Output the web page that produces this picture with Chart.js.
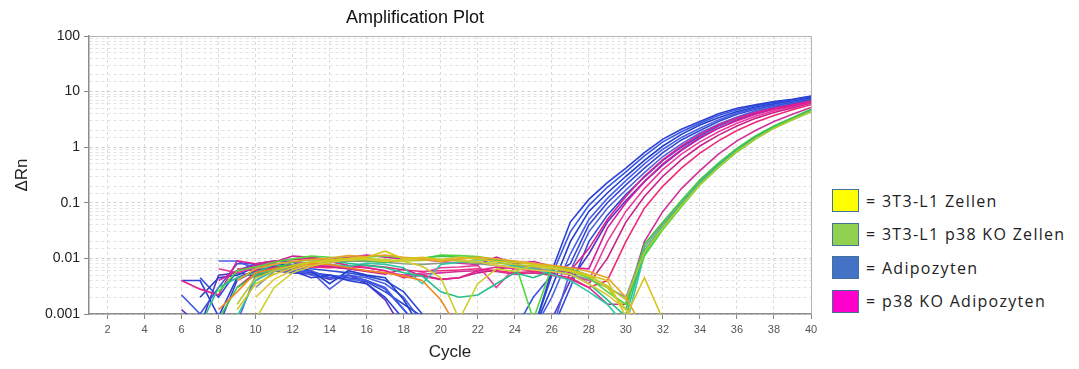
<!DOCTYPE html>
<html>
<head>
<meta charset="utf-8">
<script src="https://cdn.jsdelivr.net/npm/chart.js@4.4.1/dist/chart.umd.min.js"></script>
<style>
  html, body { margin: 0; padding: 0; background: #fff; }
  #wrap { position: relative; width: 1079px; height: 369px; }
  #chart { position: absolute; left: 0; top: 0; }
  .legend { position: absolute; left: 832px; top: 184px; font-family: "Open Sans", Lato, sans-serif; font-size: 16px; letter-spacing: 1.3px; color: #222; }
  .item { display: flex; align-items: center; height: 33.5px; white-space: nowrap; }
  .box { width: 25px; height: 21px; border: 1.5px solid #41719c; margin-right: 7px; flex: none; }
</style>
</head>
<body>
<div id="wrap">
  <canvas id="chart" width="830" height="369"></canvas>
  <div class="legend" id="legend"></div>
</div>
<script>
const n = null;
const cycles = [1,2,3,4,5,6,7,8,9,10,11,12,13,14,15,16,17,18,19,20,
  21,22,23,24,25,26,27,28,29,30,31,32,33,34,35,36,37,38,39,40];
const xTicks = [2,4,6,8,10,12,14,16,18,20,22,24,26,28,30,32,34,36,38,40];
const yLabels = [0.001, 0.01, 0.1, 1, 10, 100];

const legendNames = ['= 3T3-L1 Zellen', '= 3T3-L1 p38 KO Zellen', '= Adipozyten', '= p38 KO Adipozyten'];
const legendColors = ['#ffff00', '#92d050', '#4472c4', '#ff00cc'];

// 3T3-L1 Zellen (yellow / orange)
const zellen = [
  [n,n,n,n,n, n,n,n,.0012,.0035, .0052,.0068,.0085,.0092,.01, .0105,.0135,.0098,.0105,.0095, .0105,.0098,.0088,.0085,.0078, .007,.0062,.005,.004,.0009, .0045,.0008,n,n,n, n,n,n,n,n],
  [n,n,n,n,n, n,n,n,.004,.0065, .0078,.0088,.0095,.0102,.0112, .0108,.0115,.0105,.0098,.0088, .0098,.0105,.0098,.009,.0082, .0075,.0068,.0058,.0045,.002, .0005,n,n,n,n, n,n,n,n,n],
  [n,n,n,n,n, n,n,n,n,.0008, .003,.0055,.0072,.0085,.0095, .0098,.0092,.0088,.0072,.0045, .0008,.0035,.0065,.0058,.0075, .0068,.006,.0048,.003,.0012, .0005,n,n,n,n, n,n,n,n,n],
  [n,n,n,n,n, n,n,n,.0015,.0045, .006,.0075,.0088,.0095,.0092, .0098,.0095,.009,.0092,.0095, .009,.0085,.0082,.0078,.0072, .0065,.0058,.0048,.0032,.0018, .013,.036,.09,.215,.44, .84,1.42,2.2,3.15,4.4],
  [n,n,n,n,n, n,n,.0012,.0025,.0055, .0065,.0072,.008,.0078,.0068, .006,.0055,.0048,.004,.0018, .0005,n,n,n,n, n,n,n,n,n, n,n,n,n,n, n,n,n,n,n],
  [n,n,n,n,n, n,n,n,n,.002, .0042,.0062,.0078,.0092,.0098, .0095,.0088,.0095,.0098,.0092, .0095,.0088,.0075,.0068,.0062, .0058,.0052,.0035,.0022,.0012, .0006,n,n,n,n, n,n,n,n,n]
];
const zellenColors = ['#d8c41c', '#e8a42a', '#cfcf2a', '#b8c830', '#f08a20', '#e0c83a'];

// 3T3-L1 p38 KO Zellen (green)
const koZellen = [
  [n,n,n,n,n, n,n,.0008,.003,.005, .0065,.0085,.0095,.0088,.0095, .0092,.0085,.0095,.0102,.011, .0105,.0098,.009,.0085,.008, .0072,.0065,.005,.003,.0012, .018,.045,.11,.26,.52, .95,1.6,2.4,3.4,4.8],
  [n,n,n,n,n, n,.0006,.003,.0045,.0055, .0078,.0068,.0085,.0092,.0082, .0075,.0068,.0055,.0048,.0025, .002,.0022,.0035,.0055,.0045, .006,.0052,.0035,.0018,.0009, .014,.038,.095,.23,.47, .88,1.5,2.3,3.3,4.6],
  [n,n,n,n,n, n,n,.0025,.006,.007, .0085,.0098,.011,.0105,.0098, .0105,.0112,.0102,.0098,.0115, .0112,.0108,.0095,.0088,.0008, .007,.0058,.0045,.0025,.0015, .011,.033,.085,.21,.43, .82,1.4,2.2,3.1,4.3],
  [n,n,n,n,n, n,n,n,.0009,.004, .006,.0075,.0082,.0078,.0072, .0082,.0078,.0068,.0035,.0078, .0085,.0095,.0088,.0072,.0065, .0052,.004,.0025,.0015,.0006, .012,.036,.09,.22,.45, .85,1.45,2.25,3.2,4.5],
  [n,n,n,n,n, n,n,n,n,.003, .0058,.007,.008,.0085,.009, .0088,.0085,.008,.0078,.0082, .0085,.008,.0075,.007,.0068, .006,.0052,.0042,.003,.002, .016,.042,.1,.24,.5, .92,1.55,2.35,3.35,4.7]
];
const koZellenColors = ['#3cc84a', '#22c08a', '#52d838', '#30c8a8', '#8a9a88'];

// p38 KO Adipozyten (magenta)
const koAdipo = [
  [n,n,n,n,n, .004,.0028,.0022,.009,.008, .009,.0095,.01,.0088,.0075, .0068,.006,.0045,.005,.0042, .0045,.006,.007,.0065,.006, .0055,.006,.015,.05,.13, .3,.6,1.05,1.7,2.5, 3.3,4.2,5.0,5.8,6.8],
  [n,n,n,n,n, n,n,.004,.006,.0075, .0085,.011,.0105,.0095,.0105, .0115,.0105,.0098,.0095,.0088, .0082,.0078,.0105,.008,.0088, .0072,.0068,.0065,.035,.1, .24,.5,.9,1.5,2.2, 3.0,3.9,4.8,5.6,6.6],
  [n,n,n,n,n, n,n,.0065,.0055,.007, .008,.0085,.008,.0075,.007, .0068,.006,.0048,.0055,.0068, .007,.0075,.003,.0068,.0065, .006,.005,.004,.02,.07, .18,.4,.75,1.25,1.9, 2.7,3.6,4.5,5.4,6.4],
  [n,n,n,n,n, n,n,n,.003,.0055, .007,.0075,.0078,.0072,.0065, .0058,.0052,.0065,.0048,.0042, .0045,.0055,.0062,.0075,.0072, .0068,.0055,.0035,.01,.045, .13,.3,.6,1.05,1.65, 2.4,3.3,4.2,5.1,6.2],
  [n,n,n,n,n, n,n,n,.0065,.006, .0068,.0072,.007,.0068,.0072, .0075,.007,.0062,.0058,.006, .0062,.0065,.006,.0055,.0058, .0052,.0045,.003,.004,.02, .08,.2,.42,.78,1.3, 2.0,2.8,3.7,4.7,5.8],
  [n,n,n,n,n, n,n,n,n,.004, .0062,.0068,.0072,.007,.0065, .006,.0055,.005,.0052,.0055, .0058,.006,.0058,.0052,.0055, .005,.0042,.003,.0015,.0015, .02,.07,.18,.38,.75, 1.3,2.0,2.9,3.9,5.2]
];
const koAdipoColors = ['#e0208c', '#d41ca0', '#e83c9c', '#c8208a', '#ee2a78', '#d0309a'];

// Adipozyten (blue)
const adipo = [
  [n,n,n,n,n, .004,.004,.0009,.0045,.006, .007,.006,.0045,.005,.004, .0035,.002,.0008,.0005,.0005, .0005,.0005,.0005,.0005,.0005, .006,.045,.115,.23,.42, .8,1.4,2.1,2.9,4.0, 5.0,5.8,6.6,7.3,8.3],
  [n,n,n,n,n, .0022,.001,.003,.008,.008, .007,.0055,.006,.0045,.005, .004,.0028,.0012,.0005,.0005, .0005,.0005,.0005,.0005,.002, .005,.03,.09,.19,.36, .7,1.25,1.9,2.7,3.7, 4.7,5.6,6.4,7.1,8.0],
  [n,n,n,n,n, n,.002,.0045,.005,.007, .008,.0075,.006,.0035,.006, .005,.0045,.0018,.0005,.0005, .0005,.0005,.0005,.0005,.0005, .003,.02,.07,.15,.3, .58,1.05,1.7,2.5,3.4, 4.4,5.3,6.1,6.9,7.8],
  [n,n,n,n,n, n,n,.009,.009,.0065, .008,.007,.005,.0045,.0042, .004,.003,.0012,.0005,.0005, .0005,.0005,.0005,.0005,.0005, .002,.012,.05,.12,.25, .5,.92,1.5,2.2,3.1, 4.1,5.0,5.9,6.7,7.6],
  [n,n,n,n,n, n,n,.0006,.004,.006, .0085,.006,.0055,.005,.0045, .0038,.0025,.0015,.0009,.0005, .0005,.0005,.0005,.0005,.0005, .005,.008,.04,.1,.21, .42,.8,1.35,2.0,2.9, 3.9,4.8,5.7,6.5,7.4],
  [n,n,n,n,n, n,n,n,.0007,.005, .0075,.0068,.0058,.0028,.005, .0045,.0035,.002,.0007,.0005, .0005,.0005,.0005,.0005,.0005, .0005,.006,.03,.08,.17, .35,.68,1.15,1.8,2.6, 3.5,4.5,5.4,6.3,7.3],
  [n,n,n,n,n, n,.0045,.002,.006,.008, .009,.0085,.0065,.006,.0055, .0048,.004,.0025,.001,.0005, .0005,.0005,.0005,.0005,.0005, .0005,.003,.02,.06,.14, .29,.58,1.0,1.6,2.4, 3.3,4.3,5.2,6.1,7.1],
  [n,n,n,n,n, .0012,.0006,.005,.0055,.0048, .006,.0055,.0052,.0042,.005, .0035,.0018,.0005,.0005,.0005, .0005,.0005,.0005,.0005,.0005, .0008,.004,.012,.045,.11, .24,.48,.88,1.45,2.2, 3.1,4.0,5.0,5.9,7.0]
];
const adipoColors = ['#2a3fd6', '#3a56e0', '#2040c8', '#4a5fe8', '#3348d0', '#5060e0', '#2f4bd8', '#5a34c4'];

// first dataset is painted on top, so yellow/green go first
const datasets = [];
function addGroup(series, colors) {
  series.forEach((vals, i) => {
    datasets.push({
      data: vals.map((v, k) => ({ x: cycles[k], y: v })),
      borderColor: colors[i % colors.length],
      borderWidth: 1.6,
      pointRadius: 0,
      tension: 0,
      fill: false
    });
  });
}
addGroup(zellen, zellenColors);
addGroup(koZellen, koZellenColors);
addGroup(koAdipo, koAdipoColors);
addGroup(adipo, adipoColors);

function isDecade(v) {
  const l = Math.log10(v);
  return Math.abs(l - Math.round(l)) < 1e-6;
}

// top and right edge of the plot frame
const frame = {
  id: 'frame',
  beforeDatasetsDraw(chart) {
    const a = chart.chartArea, ctx = chart.ctx;
    ctx.save();
    ctx.strokeStyle = '#b4b4b4';
    ctx.lineWidth = 1;
    ctx.beginPath();
    ctx.moveTo(a.left, a.top + 0.5);
    ctx.lineTo(a.right + 0.5, a.top + 0.5);
    ctx.lineTo(a.right + 0.5, a.bottom);
    ctx.stroke();
    ctx.restore();
  }
};

const font = 'Liberation Sans, Arial, sans-serif';

new Chart(document.getElementById('chart'), {
  type: 'line',
  data: { datasets: datasets },
  options: {
    responsive: false,
    animation: false,
    spanGaps: false,
    layout: { padding: 0 },
    plugins: {
      legend: { display: false },
      tooltip: { enabled: false },
      title: {
        display: true,
        text: 'Amplification Plot',
        color: '#111',
        font: { family: font, size: 18, weight: 'normal' },
        padding: { top: 7, bottom: 7.4 }
      }
    },
    scales: {
      x: {
        type: 'linear',
        min: 1,
        max: 40,
        afterBuildTicks: (s) => { s.ticks = xTicks.map(v => ({ value: v })); },
        afterFit: (s) => { s.height = 55; },
        ticks: {
          color: '#555',
          font: { family: font, size: 11 },
          padding: 4,
          maxRotation: 0,
          autoSkip: false
        },
        grid: {
          color: '#dadada',
          tickColor: '#888',
          tickLength: 5,
          lineWidth: 1
        },
        border: { color: '#8c8c8c', width: 1.5, dash: [3, 3] },
        title: {
          display: true,
          text: 'Cycle',
          color: '#222',
          font: { family: font, size: 17 },
          padding: { top: 4, bottom: 6 }
        }
      },
      y: {
        type: 'logarithmic',
        min: yLabels[0],
        max: yLabels[yLabels.length - 1],
        afterFit: (s) => { s.width = 89; },
        ticks: {
          color: '#222',
          font: { family: font, size: 14 },
          padding: 4,
          autoSkip: false,
          callback: (v) => {
            const r = Number(v.toPrecision(3));
            return (isDecade(v) && yLabels.includes(r)) ? String(r) : '';
          }
        },
        grid: {
          color: (c) => (c.tick && isDecade(c.tick.value)) ? '#cccccc' : '#e2e2e2',
          tickColor: (c) => (c.tick && isDecade(c.tick.value)) ? '#888' : 'rgba(0,0,0,0)',
          tickLength: 5,
          lineWidth: 1
        },
        border: { color: '#8c8c8c', width: 1.5, dash: [3, 3] },
        title: {
          display: true,
          text: 'ΔRn',
          color: '#222',
          font: { family: font, size: 17 },
          padding: { top: 12, bottom: 4 }
        }
      },
      // empty strip on the right so the title stays centred on the whole canvas
      yRight: {
        type: 'linear',
        position: 'right',
        display: true,
        afterFit: (s) => { s.width = 19; },
        ticks: { display: false },
        grid: { drawOnChartArea: false, drawTicks: false },
        border: { display: false }
      }
    }
  },
  plugins: [frame]
});

const legend = document.getElementById('legend');
legendNames.forEach((name, i) => {
  const row = document.createElement('div');
  row.className = 'item';
  row.innerHTML = '<div class="box" style="background:' + legendColors[i] + '"></div><span>' + name + '</span>';
  legend.appendChild(row);
});
</script>
</body>
</html>
